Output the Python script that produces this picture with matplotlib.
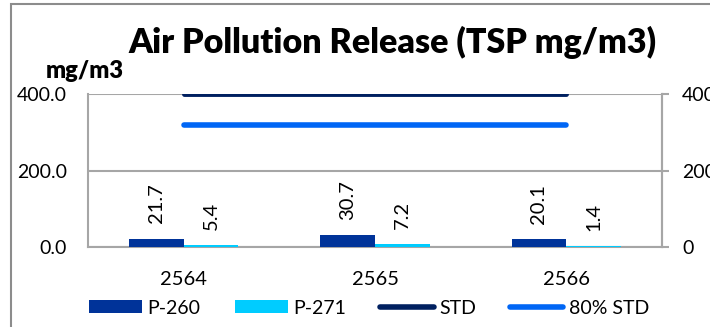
import matplotlib
matplotlib.use("Agg")
import matplotlib.pyplot as plt
from matplotlib.patches import Rectangle, Patch
from matplotlib.lines import Line2D
import numpy as np

plt.rcParams['font.family'] = ['Lato', 'DejaVu Sans']

# Data
years = ["2564", "2565", "2566"]
p260 = [21.7, 30.7, 20.1]
p271 = [5.4, 7.2, 1.4]
std = [400, 400, 400]
std80 = [320, 320, 320]
y_ticks = [0, 200, 400]

c_p260 = "#003399"
c_p271 = "#00CCFF"
c_std = "#002060"
c_std80 = "#0066F5"
grid_c = "#A6A6A6"

W, H = 710, 327
fig = plt.figure(figsize=(W / 100, H / 100), dpi=100)

# Plot area in pixel coordinates
left, right, top, bottom = 88, 662, 94, 247
ax = fig.add_axes([left / W, (H - bottom) / H, (right - left) / W, (bottom - top) / H])

x = np.arange(len(years))
bw = 0.286
ax.bar(x - bw / 2, p260, bw, color=c_p260, zorder=3)
ax.bar(x + bw / 2, p271, bw, color=c_p271, zorder=3)
ax.plot(x, std, color=c_std, lw=3.5, solid_capstyle="round", zorder=4)
ax.plot(x, std80, color=c_std80, lw=4, solid_capstyle="round", zorder=4)

lab_fs = 14.5
for xi, v in zip(x - bw / 2, p260):
    ax.annotate(f"{v:.1f}", (xi, v), xytext=(0, 11), textcoords="offset points",
                rotation=90, ha="center", va="bottom", fontsize=lab_fs)
for xi, v in zip(x + bw / 2, p271):
    ax.annotate(f"{v:.1f}", (xi, v), xytext=(0, 11), textcoords="offset points",
                rotation=90, ha="center", va="bottom", fontsize=lab_fs)

ax.set_xlim(-0.5, 2.5)
ax.set_ylim(0, 400)
ax.set_yticks(y_ticks)
ax.set_yticklabels([f"{t:.1f}" for t in y_ticks], fontsize=14)
ax.tick_params(axis="y", length=0, pad=15)
ax.set_xticks(x)
ax.set_xticklabels(years, fontsize=lab_fs)
ax.tick_params(axis="x", length=0, pad=17)
ax.yaxis.grid(True, color=grid_c, lw=1.5, zorder=0)
for s in ["left", "bottom", "right"]:
    ax.spines[s].set_color(grid_c)
    ax.spines[s].set_linewidth(1.5)
ax.spines["top"].set_visible(False)

ax2 = ax.twinx()
ax2.set_ylim(0, 400)
ax2.set_yticks(y_ticks)
ax2.set_yticklabels([f"{t:d}" for t in y_ticks], fontsize=14)
ax2.tick_params(axis="y", length=5, width=1.5, color=grid_c, pad=9.5)
for s in ["left", "bottom", "top"]:
    ax2.spines[s].set_visible(False)
ax2.spines["right"].set_color(grid_c)
ax2.spines["right"].set_linewidth(1.5)

fig.text(392 / W, 1 - 42 / H, "Air Pollution Release (TSP mg/m3)",
         ha="center", va="center", fontsize=24.5, fontweight="heavy")
fig.text(85 / W, 1 - 71 / H, "mg/m3", ha="center", va="center",
         fontsize=17, fontweight="heavy")

handles = [
    Patch(facecolor=c_p260, edgecolor="none"),
    Patch(facecolor=c_p271, edgecolor="none"),
    Line2D([], [], color=c_std, lw=4, solid_capstyle="round"),
    Line2D([], [], color=c_std80, lw=4, solid_capstyle="round"),
]
fig.legend(handles, ["P-260", "P-271", "STD", "80% STD"], ncol=4,
           loc="center", bbox_to_anchor=(369 / W, 1 - 308 / H), frameon=False,
           fontsize=14, handlelength=2.75, handleheight=0.62,
           handletextpad=0.27, columnspacing=1.75)

# Chart frame
fig.add_artist(Rectangle((11 / W, -0.2), 2, 1.2 - 4 / H, transform=fig.transFigure,
                         fill=False, edgecolor="#8C8C8C", lw=1.5, clip_on=False))

fig.savefig("out.png", dpi=100)
